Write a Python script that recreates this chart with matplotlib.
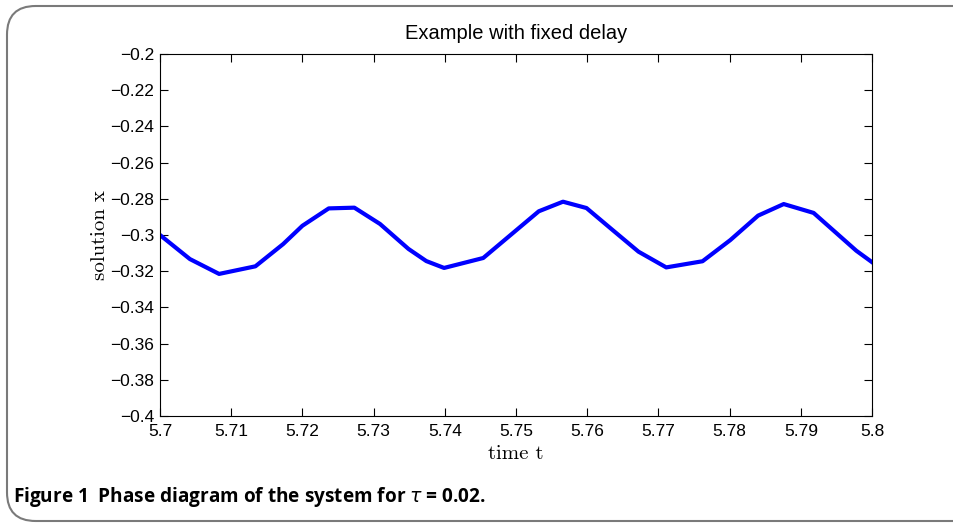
import matplotlib.pyplot as plt
from matplotlib.patches import FancyBboxPatch
import numpy as np

t = [5.7, 5.7042, 5.7083, 5.7134, 5.7173, 5.7200, 5.7237, 5.7273, 5.7309,
     5.7349, 5.7374, 5.7399, 5.7454, 5.7532, 5.7566, 5.7599, 5.7634, 5.7672,
     5.7711, 5.7762, 5.7801, 5.7840, 5.7876, 5.7918, 5.7978, 5.8]
x = [-0.300, -0.3133, -0.3215, -0.3173, -0.3050, -0.2949, -0.2853, -0.2849,
     -0.2939, -0.3077, -0.3144, -0.3182, -0.3127, -0.2869, -0.2816, -0.2851,
     -0.2967, -0.3092, -0.3179, -0.3145, -0.3028, -0.2893, -0.2829, -0.2878,
     -0.3087, -0.3150]

xticks = np.round(np.arange(5.7, 5.8001, 0.01), 2)
yticks = np.round(np.arange(-0.4, -0.1999, 0.02), 2)
xtick_labels = ["5.7", "5.71", "5.72", "5.73", "5.74", "5.75", "5.76",
                "5.77", "5.78", "5.79", "5.8"]
ytick_labels = ["\u22120.4", "\u22120.38", "\u22120.36", "\u22120.34", "\u22120.32",
                "\u22120.3", "\u22120.28", "\u22120.26", "\u22120.24", "\u22120.22",
                "\u22120.2"]

plt.rcParams['font.family'] = ['Liberation Sans', 'DejaVu Sans']

W, H = 954, 524
fig = plt.figure(figsize=(W / 100, H / 100), dpi=100)
ax = fig.add_axes([160 / W, 1 - 416 / H, 712 / W, 362 / H])

ax.plot(t, x, color='#0000ff', lw=3)
ax.set_xlim(5.7, 5.8)
ax.set_ylim(-0.4, -0.2)
ax.set_xticks(xticks)
ax.set_xticklabels(xtick_labels)
ax.set_yticks(yticks)
ax.set_yticklabels(ytick_labels)
ax.tick_params(direction='in', top=True, right=True, length=6, width=0.8,
               labelsize=12.5)
ax.tick_params(axis='x', pad=6)
ax.tick_params(axis='y', pad=4)
for s in ax.spines.values():
    s.set_linewidth(0.8)

ax.set_title("Example with fixed delay", fontsize=14.5, pad=11)
ax.set_xlabel("time t", family=['cmr10', 'DejaVu Serif'], fontsize=15, labelpad=4)
ax.set_ylabel("solution x", family=['cmr10', 'DejaVu Serif'], fontsize=15, labelpad=1)

# caption
fig.text(13 / W, 1 - 497 / H, r"Figure 1  Phase diagram of the system for $\tau$ = 0.02.",
         fontsize=13.7, fontweight='bold', family=['Open Sans', 'DejaVu Sans'],
         va='center', ha='left')

# rounded frame, open to the right
frame = FancyBboxPatch((7 / W, 1 - 521 / H), 1.05, (521 - 6) / H,
                       boxstyle="round,pad=0,rounding_size=0.03",
                       transform=fig.transFigure, fill=False,
                       edgecolor='#7a7a7a', lw=1.5, clip_on=False,
                       mutation_aspect=W / H)
fig.patches.append(frame)

fig.savefig("out.png", dpi=100)
